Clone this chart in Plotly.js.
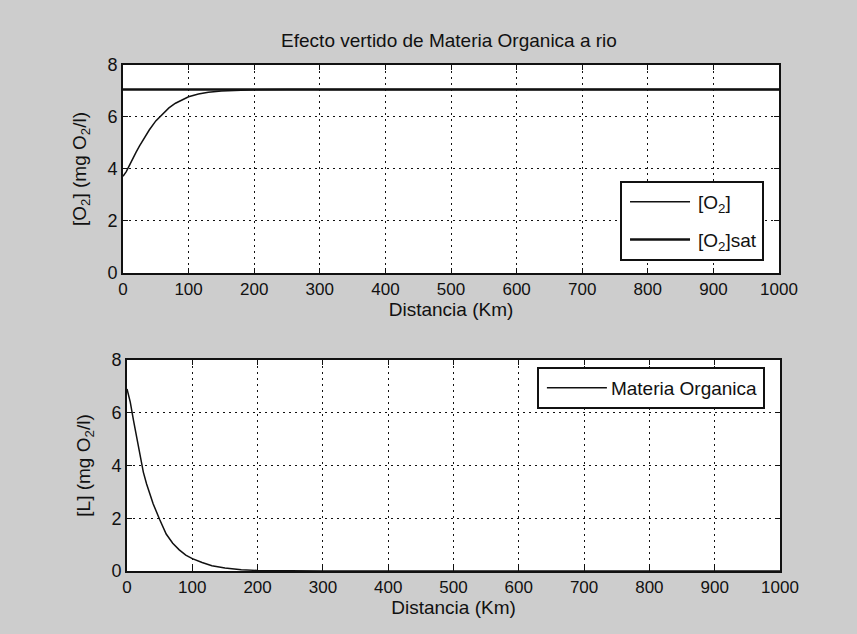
<!DOCTYPE html>
<html>
<head>
<meta charset="utf-8">
<script src="https://cdn.plot.ly/plotly-3.0.1.min.js"></script>
<style>html,body{margin:0;padding:0;background:#cdcdcd;}#chart{width:857px;height:634px;}</style>
</head>
<body>
<div id="chart"></div>
<script>
// Distance along the river (km)
const distance = [0, 5, 10, 15, 20, 25, 30, 40, 50, 60, 70, 80, 90, 100, 115, 130, 150, 175, 200, 250, 300, 400, 500, 600, 700, 800, 900, 1000];
// Dissolved oxygen [O2] (mg O2/l)
const o2 = [3.72, 3.9, 4.15, 4.42, 4.65, 4.88, 5.1, 5.5, 5.85, 6.12, 6.35, 6.53, 6.67, 6.78, 6.88, 6.95, 7.0, 7.03, 7.05, 7.06, 7.06, 7.06, 7.06, 7.06, 7.06, 7.06, 7.06, 7.06];
// Saturation [O2]sat (mg O2/l)
const o2sat = [7.06, 7.06, 7.06, 7.06, 7.06, 7.06, 7.06, 7.06, 7.06, 7.06, 7.06, 7.06, 7.06, 7.06, 7.06, 7.06, 7.06, 7.06, 7.06, 7.06, 7.06, 7.06, 7.06, 7.06, 7.06, 7.06, 7.06, 7.06];
// Organic matter [L] (mg O2/l)
const organic = [6.9, 6.4, 5.7, 5.0, 4.35, 3.75, 3.3, 2.55, 1.95, 1.4, 1.05, 0.8, 0.6, 0.47, 0.32, 0.2, 0.11, 0.05, 0.02, 0.005, 0, 0, 0, 0, 0, 0, 0, 0];
const xTicks = [0, 100, 200, 300, 400, 500, 600, 700, 800, 900, 1000];
const yTicks = [0, 2, 4, 6, 8];

const FONT = "'Liberation Sans', Arial, Helvetica, sans-serif";
const INK = '#111';

const traces = [
  {x: distance, y: o2, type: 'scatter', mode: 'lines', name: '[O<sub>2</sub>]',
   line: {color: INK, width: 1.5}, xaxis: 'x', yaxis: 'y', legend: 'legend', legendgroup: 'a'},
  {x: distance, y: o2sat, type: 'scatter', mode: 'lines', name: '[O<sub>2</sub>]sat',
   line: {color: INK, width: 2.5}, xaxis: 'x', yaxis: 'y', legend: 'legend', legendgroup: 'b'},
  {x: distance, y: organic, type: 'scatter', mode: 'lines', name: 'Materia Organica',
   line: {color: INK, width: 1.5}, xaxis: 'x2', yaxis: 'y2', legend: 'legend2'}
];

function xax(domain, anchor) {
  return {
    domain: domain, anchor: anchor, range: [0, 1000], tickvals: xTicks, ticktext: xTicks.map(String),
    showgrid: true, gridcolor: INK, griddash: '2px,4px', gridwidth: 1,
    showline: true, linecolor: INK, linewidth: 2, mirror: 'allticks',
    ticks: 'inside', ticklen: 5, tickcolor: INK, tickwidth: 1,
    zeroline: false, tickfont: {family: FONT, size: 17, color: INK},
    title: {text: 'Distancia (Km)', font: {family: FONT, size: 19, color: INK}, standoff: 0},
    automargin: false, fixedrange: true
  };
}
function yax(domain, anchor, label) {
  return {
    domain: domain, anchor: anchor, range: [0, 8], tickvals: yTicks, ticktext: yTicks.map(String),
    showgrid: true, gridcolor: INK, griddash: '2px,4px', gridwidth: 1,
    showline: true, linecolor: INK, linewidth: 2, mirror: 'allticks',
    ticks: 'inside', ticklen: 5, tickcolor: INK, tickwidth: 1,
    zeroline: false, tickfont: {family: FONT, size: 18, color: INK},
    title: {text: label, font: {family: FONT, size: 19, color: INK}, standoff: 16},
    automargin: false, fixedrange: true
  };
}

const layout = {
  width: 857, height: 634,
  paper_bgcolor: '#cdcdcd', plot_bgcolor: '#ffffff',
  margin: {l: 123, r: 77, t: 0, b: 0},
  font: {family: FONT, color: INK},
  title: {text: 'Efecto vertido de Materia Organica a rio', font: {family: FONT, size: 19, color: INK},
          x: 449 / 857, xanchor: 'center', y: (634 - 40) / 634, yanchor: 'middle'},
  xaxis: xax([0, 0.9985], 'y'),
  yaxis: yax([0.5694, 0.8975], 'x', '[O<sub>2</sub>] (mg O<sub>2</sub>/l)'),
  xaxis2: xax([0.0061, 1], 'y2'),
  yaxis2: yax([0.0994, 0.4322], 'x2', '[L] (mg O<sub>2</sub>/l)'),
  legend: {x: 0.7565, xanchor: 'left', y: 0.7145, yanchor: 'top', bgcolor: '#ffffff',
           bordercolor: INK, borderwidth: 2, font: {family: FONT, size: 19, color: INK},
           tracegroupgap: 10, itemwidth: 66, traceorder: 'grouped'},
  legend2: {x: 0.630, xanchor: 'left', y: 0.4211, yanchor: 'top', bgcolor: '#ffffff',
            bordercolor: INK, borderwidth: 2, font: {family: FONT, size: 19, color: INK}, itemwidth: 62},
  showlegend: true
};

Plotly.newPlot('chart', traces, layout, {displayModeBar: false, staticPlot: true}).then(function (gd) {
  // lengthen the legend sample lines to MATLAB style
  gd.querySelectorAll('.legendlines path').forEach(function (p) { p.setAttribute('d', 'M8,0h60'); });
});
</script>
</body>
</html>
